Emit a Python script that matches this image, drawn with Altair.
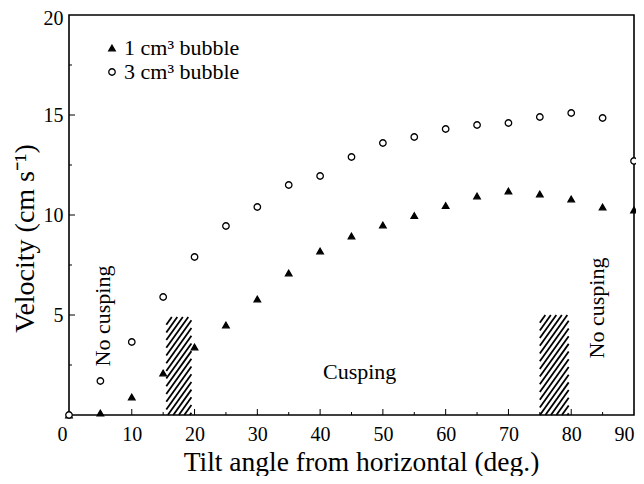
import altair as alt
import pandas as pd

# ---- data ----
angles = [0, 5, 10, 15, 20, 25, 30, 35, 40, 45, 50, 55, 60, 65, 70, 75, 80, 85, 90]
vel_1cm3 = [0, 0.1, 0.9, 2.1, 3.4, 4.5, 5.8, 7.1, 8.2, 8.95, 9.5, 9.97, 10.47, 10.95, 11.2, 11.05, 10.8, 10.4, 10.25]
vel_3cm3 = [0, 1.7, 3.65, 5.9, 7.9, 9.45, 10.4, 11.5, 11.95, 12.9, 13.6, 13.9, 14.3, 14.5, 14.6, 14.9, 15.1, 14.85, 12.7]
series_names = ["1 cm³ bubble", "3 cm³ bubble"]

# hatched regions (x0, x1, height)
hatch_regions = [(15.5, 19.5, 4.9), (75.0, 79.6, 5.0)]

# annotations
no_cusp_labels = [{"x": 5.4, "y": 4.95, "t": "No cusping"}, {"x": 84.1, "y": 5.35, "t": "No cusping"}]
cusp_labels = [{"x": 46.3, "y": 2.15, "t": "Cusping"}]

x_major = [10, 20, 30, 40, 50, 60, 70, 80]
x_minor = [5, 15, 25, 35, 45, 55, 65, 75, 85]
y_major = [5, 10, 15]
y_minor = [2.5, 7.5, 12.5, 17.5]

W, H = 565, 400
XD, YD = [0, 90], [0, 20]
FONT = "Liberation Serif"

rows = []
for a, v in zip(angles, vel_1cm3):
    rows.append({"angle": a, "vel": v, "series": series_names[0]})
for a, v in zip(angles, vel_3cm3):
    rows.append({"angle": a, "vel": v, "series": series_names[1]})
df = pd.DataFrame(rows)

# hatch lines (pattern fill) computed inside the rectangles
sx = W / (XD[1] - XD[0])
sy = H / (YD[1] - YD[0])
slope = 1.4
step = 5.5
hatch = []
for (x0, x1, h) in hatch_regions:
    x0p, x1p, hp = x0 * sx, x1 * sx, h * sy
    t = -hp / slope
    while t < (x1p - x0p):
        xs = max(x0p, x0p + t)
        ys = slope * (xs - x0p - t)
        xe = min(x1p, x0p + t + hp / slope)
        ye = slope * (xe - x0p - t)
        if xe > xs:
            hatch.append({"x": xs / sx, "y": ys / sy, "x2": xe / sx, "y2": ye / sy})
        t += step
hatch_df = pd.DataFrame(hatch)

xscale = alt.Scale(domain=XD, nice=False, zero=False)
yscale = alt.Scale(domain=YD, nice=False, zero=False)

points = alt.Chart(df).mark_point(strokeWidth=1.3, opacity=1, fillOpacity=1, size=42).encode(
    x=alt.X("angle:Q", scale=xscale,
            axis=alt.Axis(values=[0, 10, 20, 30, 40, 50, 60, 70, 80, 90], title="Tilt angle from horizontal (deg.)",
                          grid=False, domain=False, ticks=False, tickSize=0, labelPadding=9,
                          labelFont=FONT, labelFontSize=20, labelColor="black",
                          labelOffset={"condition": {"test": "datum.value == 0", "value": -12}, "value": 0},
                          titleFont=FONT, titleFontSize=27.5, titleFontWeight="normal", titleColor="black",
                          titleX=292, titleY=55, titleBaseline="alphabetic", titleAnchor="middle")),
    y=alt.Y("vel:Q", scale=yscale,
            axis=alt.Axis(values=[0, 5, 10, 15, 20], title="Velocity (cm s⁻¹)",
                          labelExpr="datum.value == 0 ? '' : datum.label",
                          grid=False, domain=False, ticks=False, tickSize=0, labelPadding=6,
                          labelFont=FONT, labelFontSize=20, labelColor="black",
                          labelOffset={"condition": {"test": "datum.value == 20", "value": 3}, "value": 0},
                          titleFont=FONT, titleFontSize=28, titleFontWeight="normal", titleColor="black",
                          titleX=-44, titleY=223, titleAngle=270, titleBaseline="middle", titleAlign="center")),
    shape=alt.Shape("series:N", scale=alt.Scale(domain=series_names, range=["triangle-up", "circle"]),
                    legend=alt.Legend(title=None)),
    fill=alt.Fill("series:N", scale=alt.Scale(domain=series_names, range=["black", "white"]),
                  legend=alt.Legend(title=None)),
    stroke=alt.Stroke("series:N", scale=alt.Scale(domain=series_names, range=["black", "black"]),
                      legend=alt.Legend(title=None)),
)

hatch_layer = alt.Chart(hatch_df).mark_rule(color="black", strokeWidth=1.8).encode(
    x=alt.X("x:Q", scale=xscale), y=alt.Y("y:Q", scale=yscale),
    x2="x2:Q", y2="y2:Q")

ticks_xM = alt.Chart(pd.DataFrame({"v": x_major})).mark_rule(color="black", strokeWidth=1).encode(
    x=alt.X("v:Q", scale=xscale), y=alt.value(H), y2=alt.value(H - 6))
ticks_xm = alt.Chart(pd.DataFrame({"v": x_minor})).mark_rule(color="black", strokeWidth=1).encode(
    x=alt.X("v:Q", scale=xscale), y=alt.value(H), y2=alt.value(H - 3))
ticks_yM = alt.Chart(pd.DataFrame({"v": y_major})).mark_rule(color="black", strokeWidth=1).encode(
    y=alt.Y("v:Q", scale=yscale), x=alt.value(0), x2=alt.value(6))
ticks_ym = alt.Chart(pd.DataFrame({"v": y_minor})).mark_rule(color="black", strokeWidth=1).encode(
    y=alt.Y("v:Q", scale=yscale), x=alt.value(0), x2=alt.value(3))

nocusp = alt.Chart(pd.DataFrame(no_cusp_labels)).mark_text(
    font=FONT, fontSize=22, angle=270, align="center", baseline="middle", color="black").encode(
    x=alt.X("x:Q", scale=xscale), y=alt.Y("y:Q", scale=yscale), text="t:N")
cusp = alt.Chart(pd.DataFrame(cusp_labels)).mark_text(
    font=FONT, fontSize=22, align="center", baseline="middle", color="black").encode(
    x=alt.X("x:Q", scale=xscale), y=alt.Y("y:Q", scale=yscale), text="t:N")

chart = alt.layer(hatch_layer, ticks_xM, ticks_xm, ticks_yM, ticks_ym, nocusp, cusp, points).properties(
    width=W, height=H,
    padding={"left": 61, "top": 7, "right": 2, "bottom": 61},
    autosize=alt.AutoSizeParams(type="none"),
    background="white",
).configure_view(stroke="black", strokeWidth=1.6).configure_legend(
    orient="none", legendX=32, legendY=22, padding=0,
    labelFont=FONT, labelFontSize=22, labelColor="black", labelOffset=1,
    symbolSize=42, symbolStrokeColor="black", symbolStrokeWidth=1.3, rowPadding=2,
)

chart.save("out.html", embed_options={"renderer": "svg", "actions": False})
